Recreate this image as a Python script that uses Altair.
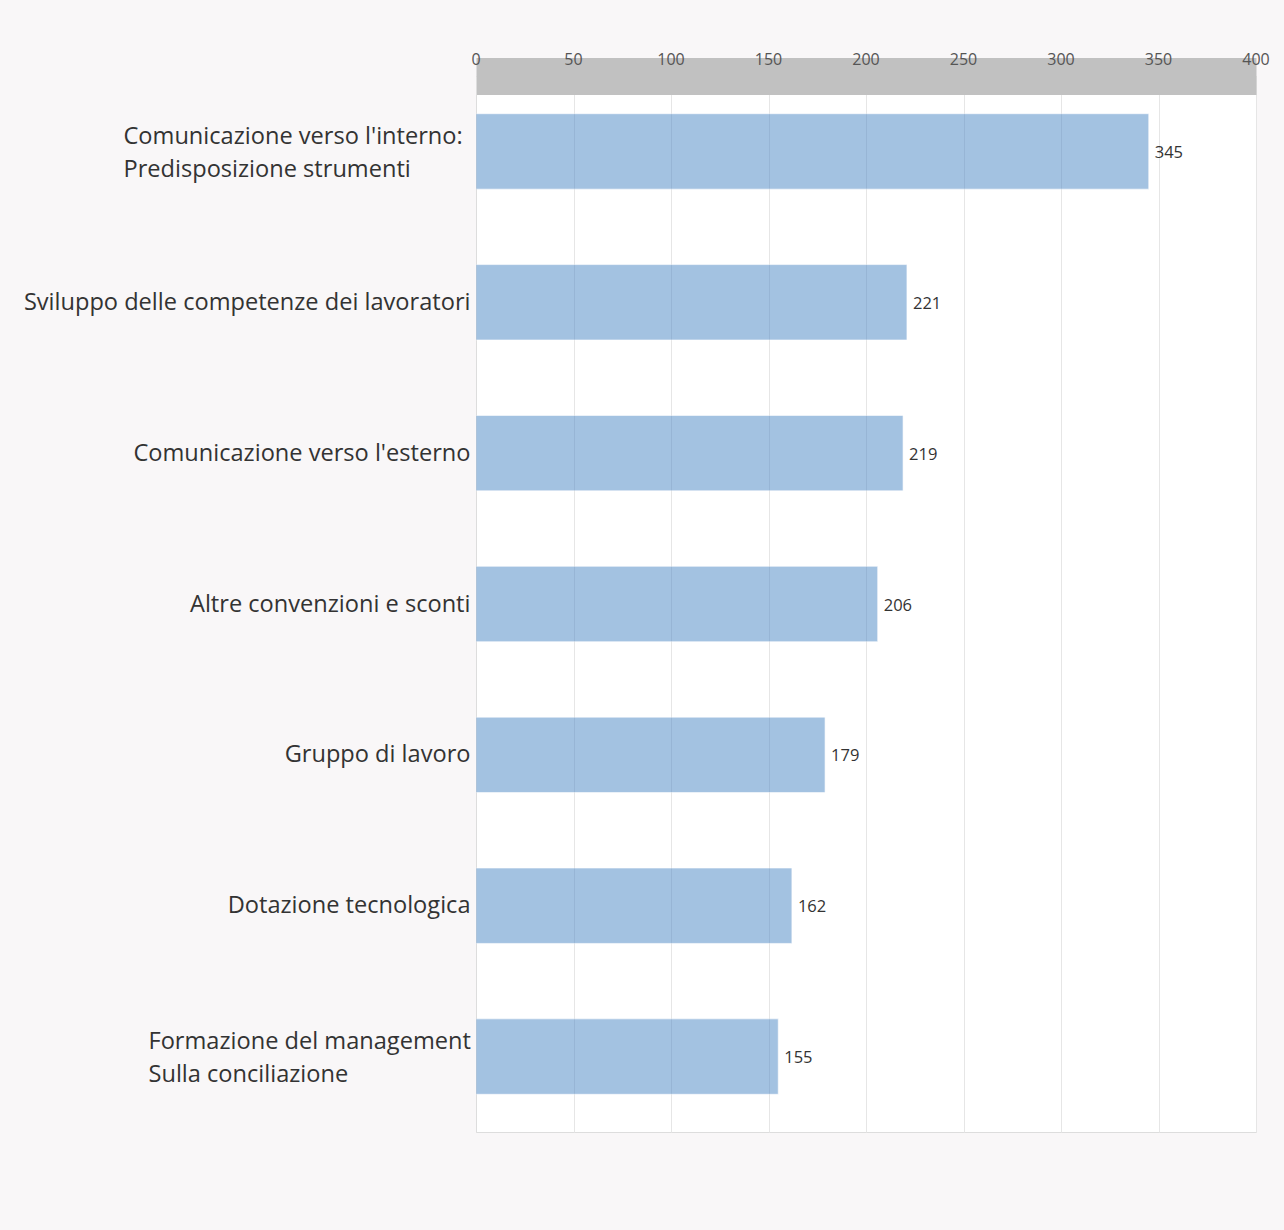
import altair as alt
import pandas as pd

categories = [
    "Comunicazione verso l'interno:|Predisposizione strumenti",
    "Sviluppo delle competenze dei lavoratori",
    "Comunicazione verso l'esterno",
    "Altre convenzioni e sconti",
    "Gruppo di lavoro",
    "Dotazione tecnologica",
    "Formazione del management|Sulla conciliazione",
]
values = [345, 221, 219, 206, 179, 162, 155]
x_ticks = [0, 50, 100, 150, 200, 250, 300, 350, 400]

df = pd.DataFrame({"cat": categories, "val": values})
ticks_df = pd.DataFrame({"t": x_ticks})

FONT = "Open Sans"

multi = "indexof(datum.value, '|') >= 0"
first_multi = f"datum.value == \"{categories[0]}\""
last_multi = f"datum.value == \"{categories[-1]}\""

y_enc = alt.Y(
    "cat:N",
    sort=None,
    title=None,
    scale=alt.Scale(paddingInner=0.5, paddingOuter=0.25),
    axis=alt.Axis(
        labelExpr="split(datum.label, '|')",
        labelFont=FONT,
        labelFontSize=23.6,
        labelColor="#333333",
        labelLineHeight=33,
        labelAlign={"condition": {"test": multi, "value": "left"}, "value": "right"},
        labelPadding={
            "condition": [
                {"test": first_multi, "value": 353},
                {"test": last_multi, "value": 328},
            ],
            "value": 6,
        },
        labelOffset={"condition": {"test": multi, "value": -14.5}, "value": 0.5},
        labelLimit=0,
        ticks=False,
        domainColor="#dddddd",
        domainWidth=1,
        grid=False,
    ),
)

bars = alt.Chart(df).mark_bar(
    color="#4a86c5", opacity=0.5, stroke="#ffffff", strokeOpacity=0.6, strokeWidth=1
).encode(
    x=alt.X(
        "val:Q",
        title=None,
        scale=alt.Scale(domain=[0, 400], nice=False),
        axis=alt.Axis(
            orient="top",
            values=x_ticks,
            labels=False,
            ticks=False,
            domainColor="#c1c1c1",
            domainWidth=37,
            domainCap="butt",
            grid=True,
            gridColor="#e6e6e6",
            gridWidth=1,
        ),
    ),
    y=y_enc,
)

value_labels = alt.Chart(df).mark_text(
    align="left", baseline="middle", dx=6, dy=1.5, font=FONT, fontSize=16.5, color="#333333"
).encode(
    x="val:Q",
    y=alt.Y("cat:N", sort=None),
    text="val:Q",
)

tick_labels = alt.Chart(ticks_df).mark_text(
    align="center", baseline="middle", font=FONT, fontSize=16, color="#555555", clip=False
).encode(
    x="t:Q",
    y=alt.value(-16),
    text="t:Q",
)

chart = (
    alt.layer(bars, value_labels, tick_labels)
    .properties(
        width=780,
        height=1056,
        background="#f9f7f8",
        padding={"left": 476, "top": 76, "right": 28, "bottom": 98},
        autosize=alt.AutoSizeParams(type="none"),
    )
    .configure_view(fill="#ffffff", stroke="#dddddd", strokeWidth=1)
)

chart.save("out.html", embed_options={"renderer": "svg", "actions": False})
